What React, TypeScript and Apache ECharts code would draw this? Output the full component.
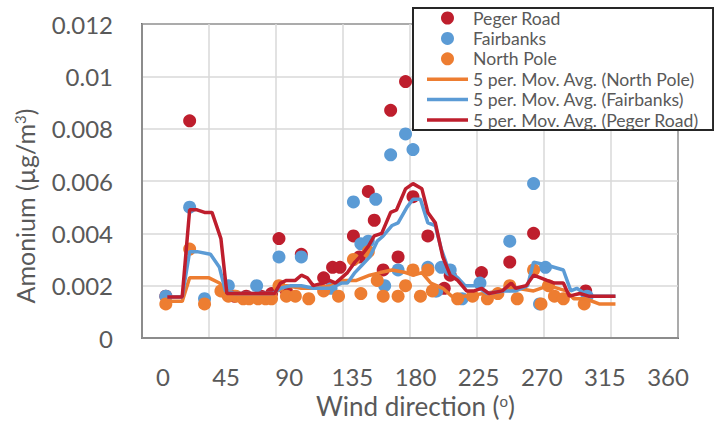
import React, { useEffect, useRef } from "react";
import * as echarts from "echarts";

const xTicks = [0, 45, 90, 135, 180, 225, 270, 315, 360];

const pegerRoad: [number, number][] = [
  [16, 0.0016], [32, 0.0083], [57, 0.0017], [62, 0.0016], [70, 0.0016], [80, 0.0016], [87, 0.0017],
  [92, 0.0038], [97, 0.0018], [107, 0.0032], [122, 0.0023], [128, 0.0027], [133, 0.0027],
  [142, 0.0039], [146, 0.0031], [152, 0.0056], [156, 0.0045], [162, 0.0026], [167, 0.0087],
  [172, 0.0031], [177, 0.0098], [182, 0.0054], [192, 0.0039], [203, 0.0019], [207, 0.0024],
  [228, 0.0025], [247, 0.0029], [263, 0.004], [298, 0.0018],
];

const fairbanks: [number, number][] = [
  [16, 0.0016], [32, 0.005], [42, 0.0015], [58, 0.002], [77, 0.002], [92, 0.0031], [107, 0.0031],
  [127, 0.0019], [142, 0.0052], [147, 0.0036], [152, 0.0037], [157, 0.0053], [163, 0.002],
  [167, 0.007], [172, 0.0026], [177, 0.0078], [182, 0.0072], [192, 0.0027], [197, 0.0018],
  [198, 0.0018], [201, 0.0027], [207, 0.0026], [215, 0.0015], [227, 0.0021], [247, 0.0037],
  [263, 0.0059], [267, 0.0013], [271, 0.0027], [299, 0.0016],
];

const northPole: [number, number][] = [
  [16, 0.0013], [32, 0.0034], [42, 0.0013], [53, 0.0018], [58, 0.0016], [63, 0.0016],
  [68, 0.0015], [72, 0.0015], [78, 0.0015], [83, 0.0015], [87, 0.0015], [92, 0.002],
  [97, 0.0016], [103, 0.0016], [112, 0.0015], [122, 0.0018], [132, 0.0016], [142, 0.003],
  [147, 0.0017], [152, 0.0033], [158, 0.0022], [162, 0.0016], [172, 0.0016], [177, 0.002],
  [182, 0.0026], [187, 0.0016], [192, 0.0026], [195, 0.0018], [212, 0.0015], [222, 0.0016],
  [232, 0.0015], [239, 0.0017], [247, 0.002], [252, 0.0015], [263, 0.0026], [268, 0.0013],
  [273, 0.002], [277, 0.0016], [283, 0.0015], [297, 0.0013],
];

const maNorthPole: [number, number][] = [
  [17, 0.0014], [27, 0.0014], [32, 0.0023], [38, 0.0023], [45, 0.0023], [52, 0.0021], [56, 0.0018],
  [62, 0.0017], [72, 0.0016], [82, 0.0016], [88, 0.0016], [92, 0.0019], [97, 0.002], [107, 0.0019],
  [117, 0.0019], [127, 0.002], [133, 0.0022], [144, 0.0022], [153, 0.0024], [160, 0.0025],
  [168, 0.0026], [177, 0.0025], [182, 0.0024], [188, 0.0025], [194, 0.0021], [202, 0.0019],
  [208, 0.0016], [217, 0.0016], [230, 0.0017], [240, 0.0018], [252, 0.0019], [263, 0.0018],
  [273, 0.002], [285, 0.0018], [290, 0.0015], [298, 0.0015], [307, 0.0013], [318, 0.0013],
];

const maFairbanks: [number, number][] = [
  [17, 0.00157], [27, 0.00157], [32, 0.0033], [37, 0.0033], [46, 0.0032], [52, 0.0027], [56, 0.0018],
  [62, 0.0017], [72, 0.0017], [82, 0.0017], [88, 0.0017], [93, 0.0019], [100, 0.002], [107, 0.002],
  [115, 0.0019], [126, 0.0019], [134, 0.0021], [138, 0.0021], [143, 0.0025], [148, 0.0028],
  [153, 0.0031], [158, 0.0037], [162, 0.0039], [168, 0.0043], [172, 0.0044], [178, 0.005],
  [182, 0.0053], [187, 0.0053], [192, 0.0044], [197, 0.0043], [201, 0.0034], [206, 0.0026],
  [212, 0.0023], [217, 0.002], [224, 0.002], [232, 0.0017], [243, 0.0018], [251, 0.0018],
  [259, 0.002], [263, 0.0029], [271, 0.0028], [283, 0.0026], [288, 0.0018], [292, 0.0019],
  [300, 0.0016], [318, 0.0016],
];

const maPegerRoad: [number, number][] = [
  [17, 0.00157], [27, 0.00157], [32, 0.0049], [37, 0.0049], [42, 0.0048], [47, 0.0048], [53, 0.0038],
  [57, 0.0017], [62, 0.0017], [67, 0.0017], [72, 0.0017], [77, 0.0017], [83, 0.0017], [89, 0.0017],
  [93, 0.0021], [97, 0.0022], [103, 0.0022], [107, 0.0024], [111, 0.0023], [115, 0.002],
  [122, 0.0021], [126, 0.0022], [130, 0.0021], [134, 0.0023], [138, 0.0025], [143, 0.0029],
  [148, 0.0032], [152, 0.0035], [156, 0.0039], [161, 0.004], [167, 0.0048], [171, 0.0049],
  [177, 0.0057], [182, 0.0059], [188, 0.0057], [192, 0.0048], [197, 0.0044], [202, 0.0031],
  [207, 0.0024], [212, 0.0022], [218, 0.0018], [223, 0.0018], [228, 0.0019], [233, 0.0017],
  [242, 0.0018], [248, 0.0021], [251, 0.0019], [258, 0.002], [263, 0.0024], [272, 0.0022],
  [277, 0.0021], [283, 0.0021], [287, 0.0016], [294, 0.0017], [300, 0.0016], [308, 0.0016],
  [318, 0.0016],
];

const RED = "#BE1E2D";
const BLUE = "#5B9BD5";
const ORANGE = "#ED7D31";
const FONT = "Lato";
const LINE_ICON = "path://M0,0H41V3.5H0Z";

export default function App() {
  const ref = useRef<HTMLDivElement>(null);
  useEffect(() => {
    if (!ref.current) return;
    const chart = echarts.init(ref.current, undefined, { renderer: "svg" });
    const scatter = (name: string, data: [number, number][], color: string) => ({
      name,
      type: "scatter",
      data,
      symbolSize: 13,
      itemStyle: { color, opacity: 1 },
      xAxisIndex: 0,
      yAxisIndex: 0,
    });
    const line = (name: string, data: [number, number][], color: string) => ({
      name,
      type: "line",
      data,
      showSymbol: false,
      symbol: "none",
      lineStyle: { color, width: 3.5 },
      itemStyle: { color },
      xAxisIndex: 0,
      yAxisIndex: 0,
    });
    chart.setOption({
      animation: false,
      textStyle: { fontFamily: FONT },
      grid: [
        { left: 142, top: 24, width: 536, height: 314, show: true, borderColor: "#262626", borderWidth: 2 },
        { left: 163, top: 24, width: 505, height: 314, show: false },
      ],
      xAxis: [
        {
          type: "value", gridIndex: 0, min: 0, max: 360, interval: 45,
          axisLine: { show: true, lineStyle: { color: "#8c8c8c", width: 2 } },
          axisTick: { show: false },
          axisLabel: { show: false },
          splitLine: { show: true, lineStyle: { color: "#D9D9D9", width: 1.5 } },
        },
        {
          type: "value", gridIndex: 1, min: 0, max: 360, interval: 45,
          axisLine: { show: false }, axisTick: { show: false }, splitLine: { show: false },
          axisLabel: { show: true, fontSize: 24, color: "#595959", margin: 31, fontFamily: FONT,
            formatter: (v: number) => (xTicks.includes(v) ? String(v) : "") },
          name: "Wind direction ({sup|o})",
          nameLocation: "middle",
          nameGap: 56,
          nameTextStyle: {
            fontSize: 26, color: "#595959", fontFamily: FONT,
            rich: { sup: { fontSize: 15, color: "#595959", fontFamily: FONT, padding: [0, 0, 11, 0] } },
          },
        },
      ],
      yAxis: [
        {
          type: "value", gridIndex: 0, min: 0, max: 0.012, interval: 0.002,
          axisLine: { show: true, lineStyle: { color: "#8c8c8c", width: 2 } },
          axisTick: { show: false },
          splitLine: { show: true, lineStyle: { color: "#D9D9D9", width: 1.5 } },
          axisLabel: { fontSize: 24, color: "#595959", margin: 29, fontFamily: FONT,
            formatter: (v: number) => String(parseFloat(v.toFixed(4))) },
          name: "Amonium (µg/m{sup|3})",
          nameLocation: "middle",
          nameGap: 104,
          nameTextStyle: {
            fontSize: 25, color: "#595959", fontFamily: FONT, padding: [0, 50, 0, 0],
            rich: { sup: { fontSize: 15, color: "#595959", fontFamily: FONT, padding: [0, 0, 11, 0] } },
          },
        },
        { type: "value", gridIndex: 1, show: false, min: 0, max: 1 },
      ],
      legend: {
        orient: "vertical",
        left: 413,
        top: 8,
        padding: [0, 14, 0, 14],
        itemWidth: 41,
        itemHeight: 13,
        itemGap: 0.4,
        backgroundColor: "#ffffff",
        borderColor: "#262626",
        borderWidth: 2,
        borderRadius: 0,
        textStyle: { fontSize: 17.6, color: "#595959", fontFamily: FONT, lineHeight: 20 },
        data: [
          { name: "Peger Road", icon: "circle" },
          { name: "Fairbanks", icon: "circle" },
          { name: "North Pole", icon: "circle" },
          { name: "5 per. Mov. Avg. (North Pole)", icon: LINE_ICON },
          { name: "5 per. Mov. Avg. (Fairbanks)", icon: LINE_ICON },
          { name: "5 per. Mov. Avg. (Peger Road)", icon: LINE_ICON },
        ],
      },
      series: [
        scatter("Peger Road", pegerRoad, RED),
        scatter("Fairbanks", fairbanks, BLUE),
        scatter("North Pole", northPole, ORANGE),
        line("5 per. Mov. Avg. (North Pole)", maNorthPole, ORANGE),
        line("5 per. Mov. Avg. (Fairbanks)", maFairbanks, BLUE),
        line("5 per. Mov. Avg. (Peger Road)", maPegerRoad, RED),
      ],
    });
    return () => chart.dispose();
  }, []);
  return <div ref={ref} style={{ width: 714, height: 424, position: "absolute", left: 0, top: 0 }} />;
}
